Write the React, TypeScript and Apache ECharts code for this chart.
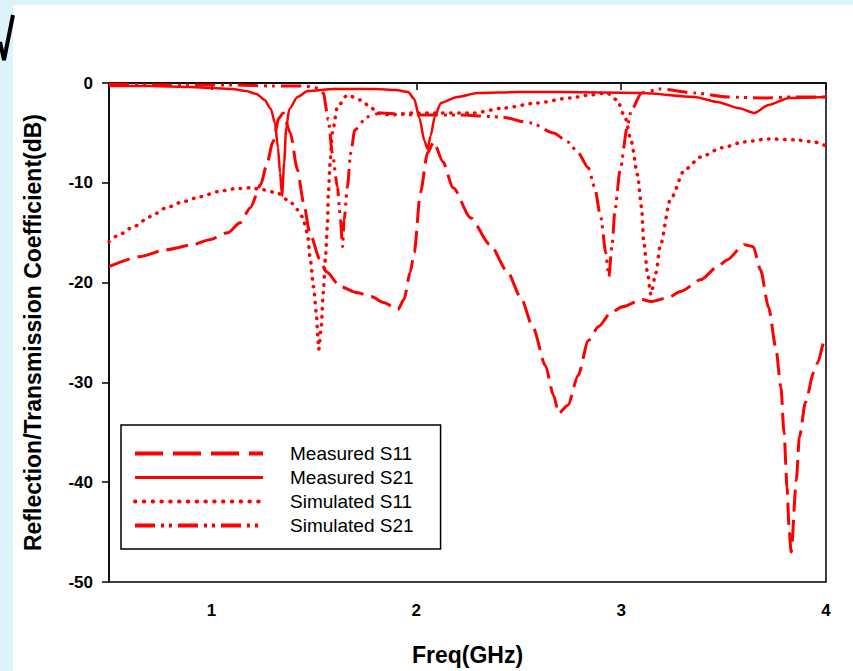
import React, { useEffect, useRef } from "react";
import * as echarts from "echarts";

const seriesNames = ["Measured S11", "Measured S21", "Simulated S11", "Simulated S21"];
const xTicks = [1, 2, 3, 4];

const measuredS11: [number, number][] = [
  [0.5, -18.4], [0.65, -17.4], [0.78, -16.7], [0.91, -16.2], [0.99, -15.7], [1.08, -15.0],
  [1.14, -14.0], [1.19, -12.5], [1.24, -10.2], [1.27, -8.2], [1.3, -5.9], [1.33, -3.5],
  [1.35, -3.0], [1.385, -5.0], [1.42, -8.7], [1.45, -12.0], [1.48, -15.0], [1.53, -17.7],
  [1.56, -18.9], [1.63, -20.4], [1.71, -21.0], [1.78, -21.4], [1.84, -22.0], [1.91, -22.7],
  [1.94, -21.7], [1.97, -19.0], [1.99, -17.0], [2.02, -11.0], [2.055, -7.0], [2.085, -5.9],
  [2.13, -7.9], [2.18, -10.5], [2.265, -13.5], [2.36, -16.2], [2.445, -18.9], [2.51, -21.5],
  [2.57, -24.5], [2.63, -28.3], [2.67, -31.3], [2.695, -33.1], [2.74, -32.3], [2.79, -29.3],
  [2.84, -25.8], [2.89, -24.4], [2.95, -23.0], [3.01, -22.4], [3.1, -21.7], [3.145, -21.9],
  [3.23, -21.5], [3.29, -20.9], [3.39, -19.7], [3.47, -18.4], [3.52, -17.7], [3.585, -16.5],
  [3.6, -16.2], [3.645, -16.4], [3.68, -18.7], [3.72, -22.5], [3.755, -26.5], [3.78, -30.5],
  [3.795, -35.0], [3.81, -40.5], [3.82, -44.8], [3.83, -47.0], [3.855, -39.8], [3.87, -35.5],
  [3.9, -32.0], [3.94, -29.0], [3.96, -28.0], [3.99, -26.0], [4.0, -25.5],
];

const measuredS21: [number, number][] = [
  [0.5, -0.3], [0.7, -0.3], [0.9, -0.4], [1.0, -0.5], [1.1, -0.6], [1.17, -0.8], [1.22, -1.1],
  [1.26, -1.7], [1.29, -2.6], [1.31, -4.0], [1.325, -6.5], [1.335, -9.0], [1.345, -11.3],
  [1.355, -8.0], [1.365, -4.5], [1.38, -2.6], [1.42, -1.4], [1.47, -0.8], [1.6, -0.6],
  [1.8, -0.6], [1.9, -0.7], [1.96, -0.9], [1.99, -1.6], [2.015, -3.5], [2.04, -5.8],
  [2.055, -6.6], [2.07, -5.3], [2.09, -3.4], [2.12, -2.0], [2.2, -1.4], [2.3, -1.0],
  [2.5, -0.9], [2.7, -0.9], [3.1, -1.0], [3.36, -1.4], [3.47, -1.9], [3.57, -2.5],
  [3.65, -3.0], [3.72, -2.2], [3.82, -1.5], [4.0, -1.4],
];

const simulatedS11: [number, number][] = [
  [0.5, -15.9], [0.55, -15.2], [0.62, -14.4], [0.7, -13.4], [0.78, -12.5], [0.86, -11.9],
  [0.945, -11.4], [1.03, -10.9], [1.11, -10.6], [1.19, -10.5], [1.25, -10.7], [1.32, -11.0],
  [1.385, -11.9], [1.42, -12.7], [1.444, -13.4], [1.468, -15.0], [1.483, -17.7], [1.498, -20.4],
  [1.512, -23.0], [1.52, -25.5], [1.524, -26.7], [1.536, -24.4], [1.546, -21.0], [1.556, -17.7],
  [1.566, -14.4], [1.571, -11.0], [1.58, -7.7], [1.59, -5.0], [1.615, -2.4], [1.664, -1.2],
  [1.727, -1.7], [1.776, -2.4], [1.81, -3.0], [1.87, -3.2], [1.99, -3.0], [2.12, -3.0],
  [2.28, -3.0], [2.43, -2.5], [2.59, -2.0], [2.75, -1.5], [2.85, -1.2], [2.93, -1.0],
  [2.98, -1.7], [3.02, -3.5], [3.05, -5.9], [3.08, -9.2], [3.1, -12.5], [3.11, -15.9],
  [3.13, -19.2], [3.145, -21.2], [3.17, -19.0], [3.19, -16.4], [3.24, -11.7], [3.31, -8.7],
  [3.39, -7.4], [3.49, -6.5], [3.6, -5.9], [3.72, -5.6], [3.85, -5.7], [3.94, -5.9], [4.0, -6.3],
];

const simulatedS21: [number, number][] = [
  [0.5, -0.1], [0.8, -0.2], [1.1, -0.2], [1.3, -0.3], [1.45, -0.3], [1.52, -0.5], [1.546, -1.0],
  [1.571, -3.7], [1.59, -7.0], [1.615, -10.4], [1.63, -13.7], [1.64, -16.4], [1.648, -13.7],
  [1.664, -10.4], [1.68, -7.0], [1.7, -4.7], [1.76, -3.4], [1.825, -3.0], [2.0, -3.2],
  [2.2, -3.2], [2.41, -3.4], [2.56, -4.0], [2.67, -5.0], [2.74, -5.9], [2.79, -7.0],
  [2.84, -8.5], [2.87, -10.4], [2.9, -13.4], [2.925, -17.0], [2.94, -19.4], [2.955, -16.4],
  [2.97, -12.7], [2.995, -8.7], [3.03, -4.4], [3.05, -2.7], [3.1, -1.0], [3.19, -0.6],
  [3.36, -1.0], [3.52, -1.4], [3.68, -1.5], [3.84, -1.4], [4.0, -1.4],
];

const RED = "#ff0000";
const FONT = "'Liberation Sans', Arial, sans-serif";

export default function App() {
  const ref = useRef<HTMLDivElement>(null);
  useEffect(() => {
    if (!ref.current) return;
    const chart = echarts.init(ref.current, null, { renderer: "svg" });
    const styles = [
      { width: 3, type: [22, 8], cap: "butt" },
      { width: 2.5, type: "solid", cap: "butt" },
      { width: 3.5, type: [0.5, 7.5], cap: "round" },
      { width: 3, type: [20, 6, 3, 5, 3, 6], cap: "butt" },
    ];
    const legendStyles = [
      { width: 4, type: [28, 10], cap: "butt" },
      { width: 3, type: "solid", cap: "butt" },
      { width: 4, type: [0.5, 8.3], cap: "round" },
      { width: 4, type: [20, 6, 3, 5, 3, 6], cap: "butt" },
    ];
    const datas = [measuredS11, measuredS21, simulatedS11, simulatedS21];
    chart.setOption({
      animation: false,
      backgroundColor: "#ddf2f9",
      textStyle: { fontFamily: FONT },
      graphic: [
        { type: "rect", z: -10, shape: { x: 13, y: 5, width: 840, height: 666 }, style: { fill: "#ffffff" } },
        {
          type: "polyline",
          z: -5,
          shape: { points: [[0, 42], [4, 60], [13, 15]] },
          style: { stroke: "#000", lineWidth: 4, fill: null },
        },
      ],
      grid: {
        left: 109,
        right: 27,
        top: 83,
        bottom: 89,
        show: true,
        borderColor: "#000",
        borderWidth: 1.5,
        backgroundColor: "transparent",
      },
      legend: {
        orient: "vertical",
        left: 121,
        top: 425,
        padding: [19, 27, 14, 12],
        borderColor: "#000",
        borderWidth: 1.5,
        itemWidth: 128,
        itemHeight: 14,
        itemGap: 5,
        selectedMode: false,
        itemStyle: { color: "rgba(0,0,0,0)", borderWidth: 0, opacity: 0 },
        formatter: (n: string) => "{g|}{n|" + n + "}",
        textStyle: {
          color: "#000",
          fontSize: 19,
          lineHeight: 14,
          fontFamily: FONT,
          rich: {
            g: { width: 22, lineHeight: 14 },
            n: { fontSize: 19, lineHeight: 14, color: "#000", fontFamily: FONT },
          },
        },
        data: seriesNames.map((name, i) => ({
          name,
          itemStyle: { color: "rgba(0,0,0,0)", borderWidth: 0, opacity: 0 },
          lineStyle: { width: legendStyles[i].width, type: legendStyles[i].type, cap: legendStyles[i].cap, color: RED, opacity: 1 },
        })),
      },
      xAxis: {
        type: "value",
        min: 0.5,
        max: 4,
        name: "Freq(GHz)",
        nameLocation: "middle",
        nameGap: 61,
        nameTextStyle: { fontSize: 23, fontWeight: "bold", color: "#000", fontFamily: FONT },
        splitLine: { show: false },
        axisLine: { lineStyle: { color: "#000", width: 1.5 } },
        axisTick: { inside: false, length: 7, lineStyle: { color: "#000", width: 1.5 }, customValues: xTicks },
        axisLabel: {
          customValues: xTicks,
          margin: 20,
          fontSize: 17,
          fontWeight: "bold",
          color: "#000",
          fontFamily: FONT,
        },
      },
      yAxis: {
        type: "value",
        min: -50,
        max: 0,
        interval: 10,
        name: "Reflection/Transmission Coefficient(dB)",
        nameLocation: "middle",
        nameGap: 65,
        nameTextStyle: { fontSize: 23, fontWeight: "bold", color: "#000", fontFamily: FONT },
        splitLine: { show: false },
        axisLine: { lineStyle: { color: "#000", width: 1.5 } },
        axisTick: { inside: false, length: 7, lineStyle: { color: "#000", width: 1.5 } },
        axisLabel: { margin: 16, fontSize: 17, fontWeight: "bold", color: "#000", fontFamily: FONT },
      },
      series: seriesNames.map((name, i) => ({
        name,
        type: "line",
        data: datas[i],
        symbol: "none",
        showSymbol: false,
        smooth: 0.25,
        smoothMonotone: "x",
        clip: true,
        lineStyle: { color: RED, width: styles[i].width, type: styles[i].type, cap: styles[i].cap },
        itemStyle: { color: RED },
        z: 3,
      })),
    });
    return () => chart.dispose();
  }, []);
  return <div ref={ref} style={{ position: "absolute", left: 0, top: 0, width: 853, height: 671 }} />;
}
